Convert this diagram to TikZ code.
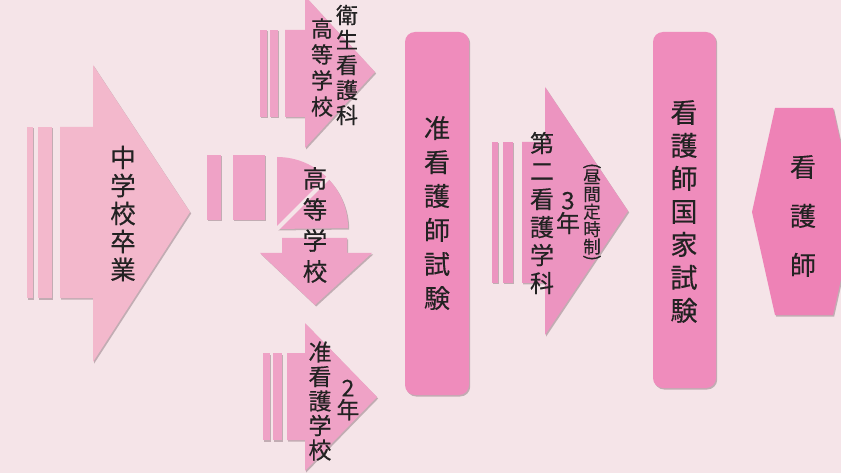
\documentclass[tikz,border=0pt]{standalone}
\usepackage{fontspec}
\setmainfont{Noto Sans CJK JP}[FakeBold=0.4]
\usepackage{graphicx}
\usetikzlibrary{shadows}
\definecolor{bg}{HTML}{F5E4E8}
\definecolor{pinkA}{HTML}{F3B8CC}
\definecolor{pinkB}{HTML}{EFA2C6}
\definecolor{pinkC}{HTML}{EC94C0}
\definecolor{pinkD}{HTML}{EF8CBC}
\definecolor{pinkE}{HTML}{EE82B6}
\definecolor{ink}{HTML}{222222}
\tikzset{
  shd/.style={drop shadow={shadow xshift=1.2pt,shadow yshift=-1.5pt,opacity=0.35,fill=black!70!magenta}},
  lbl/.style={text=ink, align=center, inner sep=0pt},
}
\newcommand{\vsz}[2]{\fontsize{#1}{#2}\selectfont}
\begin{document}
\begin{tikzpicture}[x=1pt,y=-1pt]
\useasboundingbox (0,0) rectangle (841,473);
\fill[bg] (0,0) rectangle (841,473);

% big arrow
\fill[pinkA,shd] (27,127) rectangle (33,298);
\fill[pinkA,shd] (38,127) rectangle (52,298);
\fill[pinkA,shd] (60,127) -- (93,127) -- (93,65) -- (190,212) -- (93,362) -- (93,298) -- (60,298) -- cycle;
\node[lbl,font=\vsz{25.5}{28}] (a1) at (123,213.5) {中\\学\\校\\卒\\業};

% top arrow
\fill[pinkB,shd] (260,30) rectangle (267,117);
\fill[pinkB,shd] (270,30) rectangle (278,117);
\fill[pinkB,shd] (285,30) -- (305,30) -- (305,-4) -- (375,72) -- (305,148) -- (305,117) -- (285,117) -- cycle;
\node[lbl,font=\vsz{22}{26}] (a2a) at (322,67.5) {高\\等\\学\\校};
\node[lbl,font=\vsz{22}{25}] (a2b) at (347,65) {衛\\生\\看\\護\\科};

% middle curved arrow
\fill[pinkB,shd] (207,155) rectangle (221,220);
\fill[pinkB,shd] (233,155) rectangle (265,220);
\fill[pinkB,shd] (277,229) -- (277,157) arc[start angle=-90,end angle=0,radius=71] -- cycle;
\draw[bg,line width=4pt] (277,229) -- ++(-45:90);
\fill[pinkB,shd] (282,238) -- (347,238) -- (347,253) -- (372,253) -- (315,305) -- (260,253) -- (282,253) -- cycle;
\node[lbl,font=\vsz{24.5}{31}] (a3) at (315,225) {高\\等\\学\\校};

% bottom arrow
\fill[pinkB,shd] (263,353) rectangle (270,440);
\fill[pinkB,shd] (273,353) rectangle (282,440);
\fill[pinkB,shd] (287,353) -- (305,353) -- (305,323) -- (377,397) -- (305,471) -- (305,440) -- (287,440) -- cycle;
\node[lbl,font=\vsz{23}{24.5}] (a4a) at (320,401) {准\\看\\護\\学\\校};
\node[lbl,font=\vsz{23}{22}] (a4b) at (348,400) {2\\年};

% exam 1
\fill[pinkD,shd,rounded corners=10pt] (405,32) rectangle (469,395);
\node[lbl,font=\vsz{26}{34}] (e1) at (437,213) {准\\看\\護\\師\\試\\験};

% third arrow
\fill[pinkC,shd] (492,142) rectangle (498,283);
\fill[pinkC,shd] (503,142) rectangle (513,283);
\fill[pinkC,shd] (522,142) -- (545,142) -- (545,87) -- (628,211) -- (545,335) -- (545,283) -- (522,283) -- cycle;
\node[lbl,font=\vsz{24}{28}] (a5a) at (542,213) {第\\二\\看\\護\\学\\科};
\node[lbl,font=\vsz{24}{23}] (a5b) at (568,213) {3\\年};
\node[lbl,font=\vsz{17.5}{17.5}] (a5c) at (592,212) {昼\\間\\定\\時\\制};
\node[lbl,font=\vsz{17.5}{17.5},anchor=south] (p1) at (a5c.north) {\rotatebox{-90}{(}};
\node[lbl,font=\vsz{17.5}{17.5},anchor=north] (p2) at (a5c.south) {\rotatebox{-90}{)}};

% exam 2
\fill[pinkD,shd,rounded corners=10pt] (653,32) rectangle (716,388);
\node[lbl,font=\vsz{27}{33}] (e2) at (684,211.5) {看\\護\\師\\国\\家\\試\\験};

% hexagon
\fill[pinkE,shd] (752,212) -- (775,108) -- (833,108) -- (856,212) -- (833,315) -- (775,315) -- cycle;
\node[lbl,font=\vsz{26}{49}] (h) at (803,216) {看\\護\\師};
\end{tikzpicture}
\end{document}
